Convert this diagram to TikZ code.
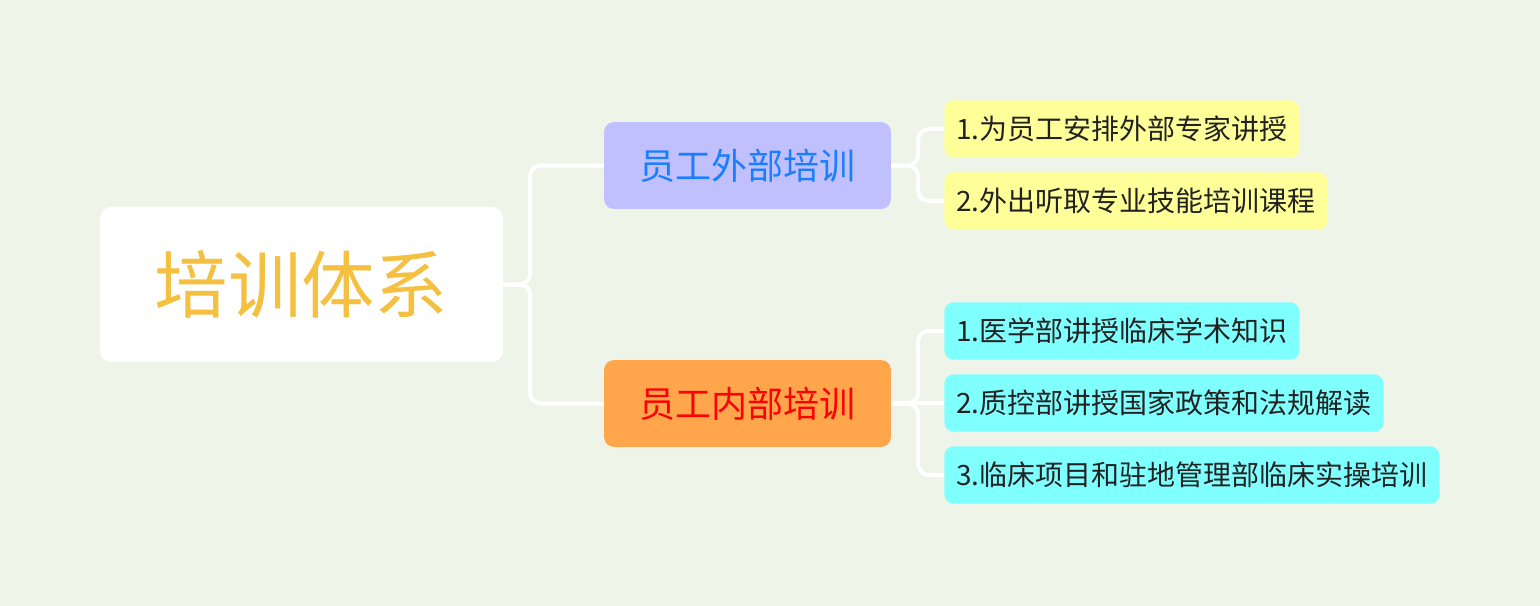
\documentclass[tikz,border=0pt]{standalone}
\usepackage{fontspec}
\setmainfont{Noto Sans CJK SC}
\usetikzlibrary{positioning}
\definecolor{BgGreen}{HTML}{EEF5E8}
\definecolor{TopBlue}{HTML}{C0C0FF}
\definecolor{TopOrange}{HTML}{FFA64D}
\definecolor{LeafYellow}{HTML}{FFFF99}
\definecolor{LeafCyan}{HTML}{80FFFF}
\definecolor{RootGold}{HTML}{F5C040}
\definecolor{TxtBlue}{HTML}{1A7FFF}
\definecolor{TxtDark}{HTML}{222222}
\tikzset{
  rootbox/.style={fill=white,rounded corners=8pt,minimum width=302pt,minimum height=116pt,font=\fontsize{55}{60}\selectfont,text=RootGold},
  topbox/.style={rounded corners=7pt,minimum width=215pt,minimum height=65pt,font=\fontsize{27}{30}\selectfont},
  leafbox/.style={rounded corners=7pt,minimum height=43pt,anchor=west,inner xsep=9pt,font=\fontsize{21}{24}\selectfont,text=TxtDark},
  link/.style={draw=white,line width=3pt,rounded corners=8pt}
}
\begin{document}
\begin{tikzpicture}[x=0.75pt,y=-0.75pt]
  \fill[BgGreen] (0,0) rectangle (1540,606);
  \node[rootbox] (root) at (301.5,284.5) {培训体系};
  \node[topbox,fill=TopBlue,text=TxtBlue] (ext) at (747.5,165.5) {员工外部培训};
  \node[topbox,fill=TopOrange,text=red] (int) at (747.5,403.5) {员工内部培训};
  \node[leafbox,fill=LeafYellow] (e1) at (944,129) {1.为员工安排外部专家讲授};
  \node[leafbox,fill=LeafYellow] (e2) at (944,201) {2.外出听取专业技能培训课程};
  \node[leafbox,fill=LeafCyan] (i1) at (944,331) {1.医学部讲授临床学术知识};
  \node[leafbox,fill=LeafCyan] (i2) at (944,403) {2.质控部讲授国家政策和法规解读};
  \node[leafbox,fill=LeafCyan] (i3) at (944,475) {3.临床项目和驻地管理部临床实操培训};
  % links
  \draw[link] (root.east) -- ++(27,0) |- (ext.west);
  \draw[link] (root.east) -- ++(27,0) |- (int.west);
  \draw[link] (ext.east) -- ++(27,0) |- (e1.west);
  \draw[link] (ext.east) -- ++(27,0) |- (e2.west);
  \draw[link] (int.east) -- ++(27,0) |- (i1.west);
  \draw[link] (int.east) -- (i2.west);
  \draw[link] (int.east) -- ++(27,0) |- (i3.west);
\end{tikzpicture}
\end{document}
